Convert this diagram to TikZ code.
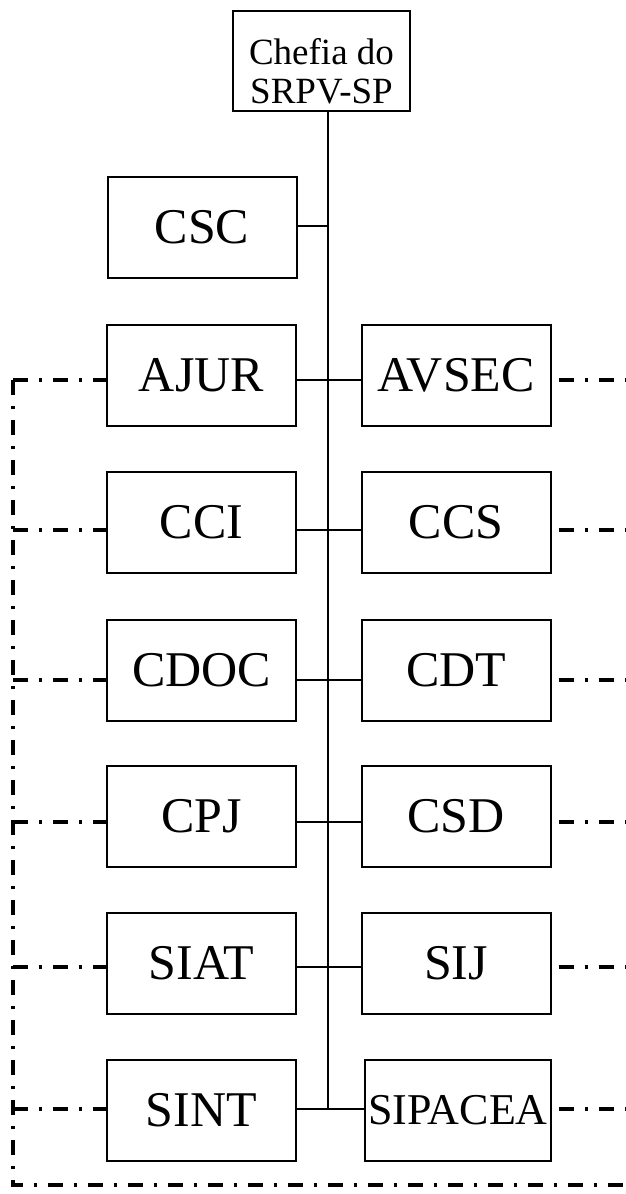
\documentclass[tikz,border=0pt]{standalone}
\usepackage{fontspec}
\setmainfont{Liberation Serif}
\begin{document}
\begin{tikzpicture}[x=1pt,y=-1pt,
  box/.style={draw,line width=2pt,minimum width=189pt,minimum height=101pt,inner sep=0pt,font=\fontsize{50}{53}\selectfont},
  toptext/.style={anchor=base,inner sep=0pt,font=\fontsize{37}{40}\selectfont},
  link/.style={line width=2pt},
  dd/.style={line width=3.5pt,dash pattern=on 15pt off 11pt on 3pt off 11pt},
  ddr/.style={dd,dash phase=33pt}]
\useasboundingbox (0,0) rectangle (626,1194);
% top box
\node[draw,line width=2pt,minimum width=177pt,minimum height=100pt,inner sep=0pt] (top) at (321.5,61) {};
\node[toptext] (t1) at (321.5,64) {Chefia do};
\node[toptext] (t2) at (321.5,103) {SRPV-SP};
% left boxes
\node[box] (csc)  at (202,227) {CSC};
\node[box] (ajur) at (201.5,375.5) {AJUR};
\node[box] (cci)  at (201.5,522.5) {CCI};
\node[box] (cdoc) at (201.5,670.5) {CDOC};
\node[box] (cpj)  at (201.5,816.5) {CPJ};
\node[box] (siat) at (201.5,963.5) {SIAT};
\node[box] (sint) at (201.5,1110.5) {SINT};
% right boxes
\node[box] (avsec) at (456,375.5) {AVSEC};
\node[box] (ccs)   at (456,522.5) {CCS};
\node[box] (cdt)   at (456,670.5) {CDT};
\node[box] (csd)   at (456,816.5) {CSD};
\node[box] (sij)   at (456,963.5) {SIJ};
\node[box,minimum width=186pt,font=\fontsize{44}{47}\selectfont] (sipacea) at (458,1110) {SIPACEA};
% junctions on the trunk
\coordinate (j1) at (328,226);
\coordinate (j2) at (328,380);
\coordinate (j3) at (328,530);
\coordinate (j4) at (328,680);
\coordinate (j5) at (328,822);
\coordinate (j6) at (328,967);
\coordinate (j7) at (328,1109);
% trunk and links
\draw[link] (top.south -| j1) -- (j7);
\draw[link] (csc.east |- j1) -- (j1);
\draw[link] (ajur.east |- j2) -- (avsec.west |- j2);
\draw[link] (cci.east |- j3) -- (ccs.west |- j3);
\draw[link] (cdoc.east |- j4) -- (cdt.west |- j4);
\draw[link] (cpj.east |- j5) -- (csd.west |- j5);
\draw[link] (siat.east |- j6) -- (sij.west |- j6);
\draw[link] (sint.east |- j7) -- (sipacea.west |- j7);
% dash-dot lines
\coordinate (lc) at (13,380);
\coordinate (bl) at (13,1185);
\coordinate (br) at (626,1185);
\coordinate (re) at (626,0);
\draw[dd] (lc) -- (bl) -- (br);
\draw[dd] (lc |- j2) -- (ajur.west |- j2);
\draw[dd] (lc |- j3) -- (cci.west |- j3);
\draw[dd] (lc |- j4) -- (cdoc.west |- j4);
\draw[dd] (lc |- j5) -- (cpj.west |- j5);
\draw[dd] (lc |- j6) -- (siat.west |- j6);
\draw[dd] (lc |- j7) -- (sint.west |- j7);
\draw[ddr] (avsec.east |- j2) -- (re |- j2);
\draw[ddr] (ccs.east |- j3) -- (re |- j3);
\draw[ddr] (cdt.east |- j4) -- (re |- j4);
\draw[ddr] (csd.east |- j5) -- (re |- j5);
\draw[ddr] (sij.east |- j6) -- (re |- j6);
\draw[ddr] (sipacea.east |- j7) -- (re |- j7);
\end{tikzpicture}
\end{document}
